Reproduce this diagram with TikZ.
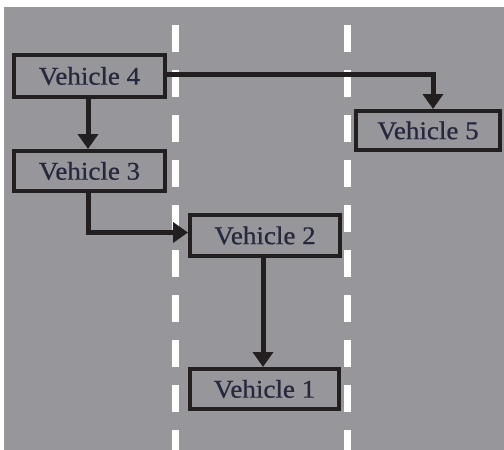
\documentclass[tikz,border=0pt]{standalone}
\usepackage{fontspec}
\setmainfont{Liberation Serif}[FakeBold=0.6]
\usetikzlibrary{arrows.meta}
\definecolor{bg}{RGB}{151,151,155}
\definecolor{ink}{RGB}{35,31,32}
\definecolor{txt}{RGB}{38,40,62}
\tikzset{
  veh/.style={draw=ink, line width=4pt, rectangle, inner sep=0pt, text=txt,
    font=\fontsize{25.5}{30}\selectfont},
  conn/.style={draw=ink, line width=5pt, -{Triangle[width=20pt,length=15pt]}},
  lane/.style={draw=white, line width=7pt, dash pattern=on 27pt off 18pt}
}
\begin{document}
\begin{tikzpicture}[x=1pt,y=-1pt]
\useasboundingbox (0,0) rectangle (504,450);
\fill[white] (0,0) rectangle (504,450);
\fill[bg] (4,7) rectangle (504,450);
\draw[lane] (175,25) -- (175,450);
\draw[lane] (347,25) -- (347,450);
\node[veh, minimum width=151pt, minimum height=42pt] (v4) at (89.5,76) {\scalebox{1.06}[1]{Vehicle 4}};
\node[veh, minimum width=151pt, minimum height=40pt] (v3) at (89.5,171) {\scalebox{1.06}[1]{Vehicle 3}};
\node[veh, minimum width=150pt, minimum height=41pt] (v2) at (265,235.5) {\scalebox{1.06}[1]{Vehicle 2}};
\node[veh, minimum width=144pt, minimum height=39pt] (v5) at (428,130.5) {\scalebox{1.06}[1]{Vehicle 5}};
\node[veh, minimum width=149pt, minimum height=40pt] (v1) at (264.5,389) {\scalebox{1.06}[1]{Vehicle 1}};
\draw[conn] ([yshift=2pt]v4.east) -| ([xshift=5pt]v5.north);
\draw[conn] ([xshift=-1.5pt]v4.south) -- ([xshift=-1.5pt]v3.north);
\draw[conn] ([xshift=-1.5pt]v3.south) |- ([yshift=3pt]v2.west);
\draw[conn] ([xshift=-2pt]v2.south) -- ([xshift=-1.5pt]v1.north);
\end{tikzpicture}
\end{document}
